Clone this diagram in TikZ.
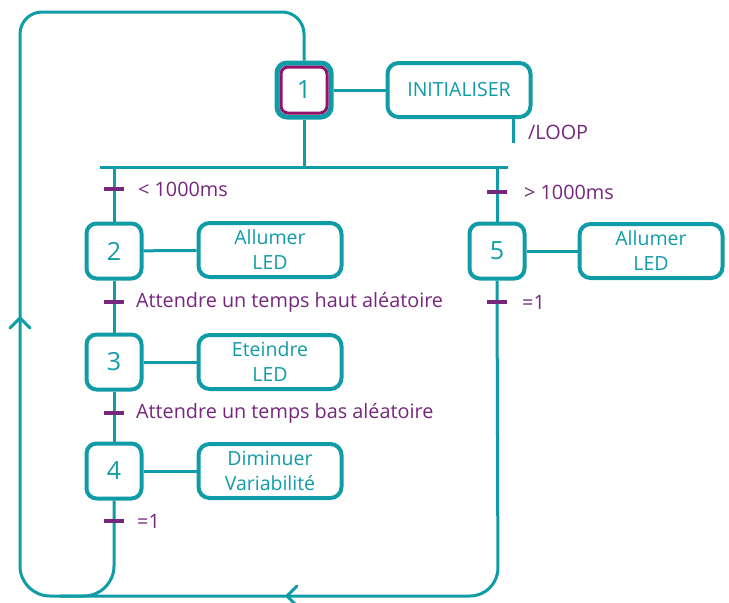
\documentclass[tikz,border=0pt]{standalone}
\usepackage{fontspec}
\setmainfont{Open Sans}
\definecolor{tealc}{RGB}{16,156,167}
\definecolor{purpc}{RGB}{118,38,124}
\definecolor{magc}{RGB}{148,18,108}
\begin{document}
\begin{tikzpicture}[x=1pt,y=-1pt,
  stepbox/.style={draw=tealc, fill=white, line width=4pt, rounded corners=10pt, minimum width=55pt, minimum height=55pt, inner sep=0pt, font=\fontsize{25}{28}\selectfont, text=tealc},
  actbox/.style={draw=tealc, fill=white, line width=4pt, rounded corners=11pt, minimum width=143pt, minimum height=54pt, align=center, font=\fontsize{19.5}{25}\selectfont, text=tealc, inner sep=0pt},
  link/.style={draw=tealc, line width=3pt},
  tbar/.style={fill=purpc, minimum width=20pt, minimum height=4pt, inner sep=0pt},
  tlabel/.style={text=purpc, anchor=west, font=\fontsize{19.8}{22}\selectfont, inner sep=0pt}]
\useasboundingbox (0,0) rectangle (729,603);

% steps
\node[stepbox, line width=5pt, minimum width=54pt, minimum height=54pt] (s1) at (304,90) {};
\node[draw=magc, line width=3pt, rounded corners=7pt, minimum width=46pt, minimum height=46pt, inner sep=0pt, font=\fontsize{25}{28}\selectfont, text=tealc] (s1in) at (304,90) {1};
\node[stepbox] (s2) at (114,251) {2};
\node[stepbox] (s3) at (114,362) {3};
\node[stepbox] (s4) at (114,471) {4};
\node[stepbox] (s5) at (497,251) {5};

% actions
\node[actbox] (a1) at (459,90) {INITIALISER};
\node[actbox] (a2) at (270,250) {Allumer\\LED};
\node[actbox] (a3) at (270,362) {Eteindre\\LED};
\node[actbox] (a4) at (270,471) {Diminuer\\Variabilité};
\node[actbox] (a5) at (651,251) {Allumer\\LED};

% coordinates
\coordinate (hl) at (100,167);
\coordinate (hr) at (508,167);
\coordinate (bl) at (114,167);
\coordinate (br) at (497,167);
\coordinate (loopend) at (513,143);
\coordinate (tl) at (20,12);
\coordinate (tr) at (304,12);
\coordinate (bbl) at (20,596);
\coordinate (b4) at (114,596);
\coordinate (b5) at (498,596);

% links
\draw[link] (s1) -- (a1);
\draw[link] (s2) -- (a2);
\draw[link] (s3) -- (a3);
\draw[link] (s4) -- (a4);
\draw[link] (s5) -- (a5);
\draw[link] (a1.south -| loopend) -- (loopend);
\draw[link] (s1.south) -- (s1.south |- hl);
\draw[link] (hl) -- (hr);
\draw[link] (bl) -- (s2.north);
\draw[link] (s2) -- (s3);
\draw[link] (s3) -- (s4);
\draw[link] (br) -- (s5.north);
\draw[link, rounded corners=30pt] (s4.south) -- (b4) -- (60,596);
\draw[link, rounded corners=28pt] (s5.south) -- (b5) -- (60,596);
\draw[link, rounded corners=30pt] (60,596) -- (bbl) -- (20,200);
\draw[link, rounded corners=22pt] (20,200) -- (tl) -- (tr) -- (s1.north);

% arrows (chevrons)
\draw[link, line cap=round] (10,328) -- (20,318) -- (30,328);
\draw[link, line cap=round] (297,586) -- (287,596) -- (297,606);

% transitions
\node[tbar] (t1) at (114,189) {};
\node[tlabel] at (138,189) {< 1000ms};
\node[tbar] (t2) at (114,302) {};
\node[tlabel] at (136,302) {Attendre un temps haut aléatoire};
\node[tbar] (t3) at (114,413) {};
\node[tlabel] at (136,413) {Attendre un temps bas aléatoire};
\node[tbar] (t4) at (114,521) {};
\node[tlabel] at (137,521) {=1};
\node[tbar] (t5) at (497,192) {};
\node[tlabel] at (524,192) {> 1000ms};
\node[tbar] (t6) at (497,302) {};
\node[tlabel] at (522,302) {=1};
\node[tlabel] at (528,132) {/LOOP};
\end{tikzpicture}
\end{document}
